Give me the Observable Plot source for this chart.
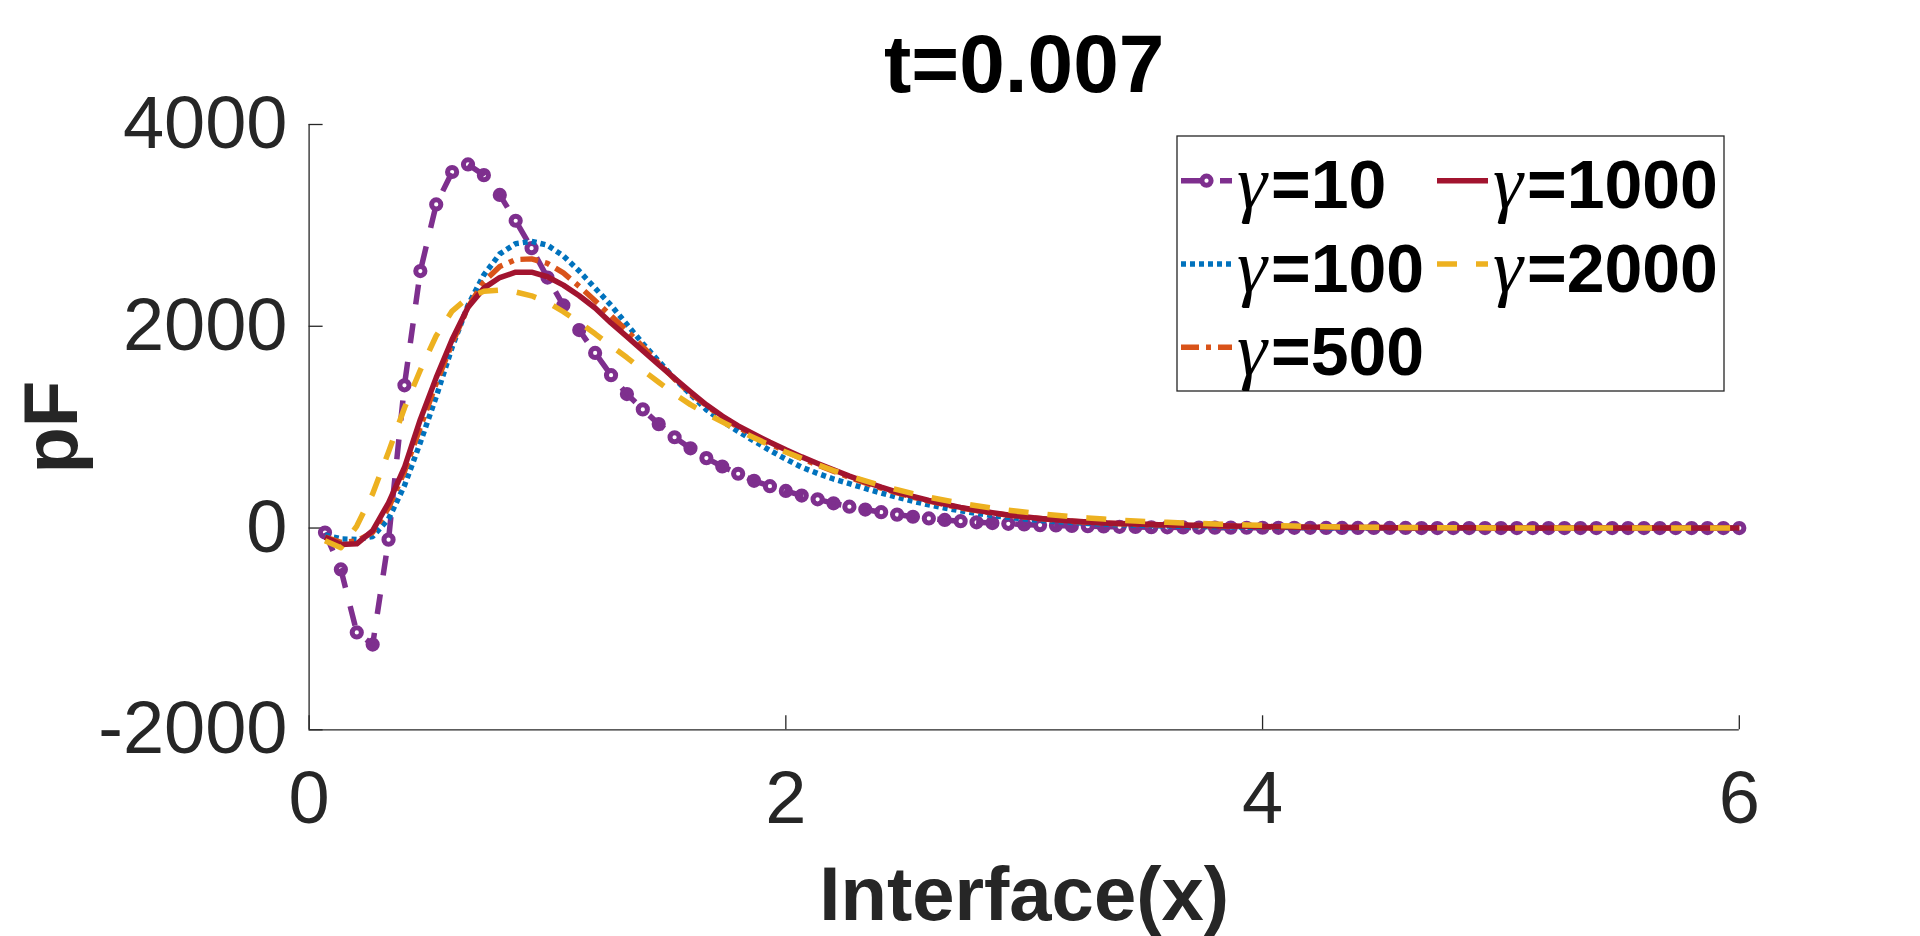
<!DOCTYPE html>
<html>
<head>
<meta charset="utf-8">
<script src="https://cdn.jsdelivr.net/npm/d3@7"></script>
<script src="https://cdn.jsdelivr.net/npm/@observablehq/plot@0.6"></script>
<style>
html, body { margin: 0; padding: 0; background: #fff; overflow: hidden; }
#chart svg { display: block; }
</style>
</head>
<body>
<div id="chart"></div>
<script>
// ---------------- data ----------------
const titleText = "t=0.007";
const xLabel = "Interface(x)";
const yLabel = "pF";
const xTicks = [0, 2, 4, 6];
const yTicks = [-2000, 0, 2000, 4000];
const gammas = [10, 100, 500, 1000, 2000];

const xs = [0.0667,0.1333,0.2,0.2667,0.3333,0.4,0.4667,0.5333,0.6,0.6667,
  0.7333,0.8,0.8667,0.9333,1,1.0667,1.1333,1.2,1.2667,1.3333,
  1.4,1.4667,1.5333,1.6,1.6667,1.7333,1.8,1.8667,1.9333,2,
  2.0667,2.1333,2.2,2.2667,2.3333,2.4,2.4667,2.5333,2.6,2.6667,
  2.7333,2.8,2.8667,2.9333,3,3.0667,3.1333,3.2,3.2667,3.3333,
  3.4,3.4667,3.5333,3.6,3.6667,3.7333,3.8,3.8667,3.9333,4,
  4.0667,4.1333,4.2,4.2667,4.3333,4.4,4.4667,4.5333,4.6,4.6667,
  4.7333,4.8,4.8667,4.9333,5,5.0667,5.1333,5.2,5.2667,5.3333,
  5.4,5.4667,5.5333,5.6,5.6667,5.7333,5.8,5.8667,5.9333,6];

const g10 = [-45,-410,-1035,-1155,-115,1415,2547,3208,3529,3604,
  3498,3302,3046,2774,2483,2208,1962,1736,1515,1328,
  1176,1030,900,790,693,610,538,468,415,368,
  322,285,245,212,183,157,133,112,95,80,
  68,57,49,42,35,29,25,21,18,15,
  12,10,8,7,6,5,4,4,3,3,
  2,2,2,1,1,1,1,1,1,0,
  0,0,0,0,0,0,0,0,0,0,
  0,0,0,0,0,0,0,0,0,0];

const g100 = [-68,-107,-114,-84,90,420,849,1302,1793,2208,
  2510,2717,2819,2842,2804,2698,2547,2378,2208,2018,
  1829,1654,1480,1325,1173,1059,958,862,770,683,
  603,541,486,440,392,347,305,266,230,198,
  170,145,124,106,90,76,64,54,46,39,
  33,28,24,20,17,15,13,11,9,8,
  7,6,5,4,3,3,2,2,2,1,
  1,1,1,1,0,0,0,0,0,0,
  0,0,0,0,0,0,0,0,0,0];

const g500 = [-90,-143,-127,-43,200,560,1000,1434,1830,2189,
  2442,2593,2661,2668,2623,2529,2396,2253,2104,1955,
  1797,1633,1476,1334,1215,1100,1000,915,835,760,
  690,625,563,503,447,396,349,306,267,232,
  200,173,149,128,110,94,80,68,58,50,
  43,38,34,30,27,24,21,19,17,15,
  13,11,9,8,7,6,5,4,3,3,
  2,2,2,1,1,1,1,0,0,0,
  0,0,0,0,0,0,0,0,0,0];

const g1000 = [-91,-163,-157,-25,250,600,1076,1491,1868,2189,
  2378,2483,2536,2536,2491,2408,2302,2181,2033,1897,
  1758,1620,1485,1351,1222,1110,1013,930,850,775,
  705,640,578,515,458,405,357,313,273,237,
  205,177,152,130,111,95,81,69,59,51,
  44,39,35,31,28,25,22,19,17,15,
  13,11,9,8,7,6,5,4,3,3,
  2,2,2,1,1,1,1,0,0,0,
  0,0,0,0,0,0,0,0,0,0];

const g2000 = [-125,-195,20,340,755,1190,1566,1906,2151,2283,
  2347,2359,2340,2302,2238,2144,2038,1925,1805,1690,
  1565,1445,1328,1223,1134,1052,970,895,822,753,
  690,628,570,517,468,422,380,341,306,275,
  246,221,198,177,158,141,126,112,100,89,
  79,70,63,57,51,46,41,36,31,27,
  23,19,16,13,11,9,7,6,5,4,
  3,3,2,2,1,1,1,0,0,0,
  0,0,0,0,0,0,0,0,0,0];

const seriesValues = [g10, g100, g500, g1000, g2000];

// ---------------- styles ----------------
const axisColor = "#262626";
const lineWidth = 5.5;
const seriesStyles = [
  {color: "#7E2F8E", dash: "20,19", marker: true},
  {color: "#0072BD", dash: "5,4"},
  {color: "#D95319", dash: "18,7,5,7"},
  {color: "#A2142F", dash: null},
  {color: "#EDB120", dash: "20,19"}
];
const W = 1920, H = 936;
const mL = 308.6, mR = 181.2, mT = 124, mB = 206.7;
const sansFont = "'Liberation Sans', Arial, Helvetica, sans-serif";
const serifFont = "'Liberation Serif', 'Times New Roman', serif";

const seriesRows = seriesValues.map((vals, i) => vals.map((v, j) => ({x: xs[j], y: v, s: i})));

const marks = [];
// axis lines (left and bottom)
marks.push(Plot.ruleX([xTicks[0]], {x: d => d, stroke: axisColor, strokeWidth: 1.3}));
marks.push(Plot.ruleY([yTicks[0]], {y: d => d, stroke: axisColor, strokeWidth: 1.3}));
// inward tick marks
marks.push(Plot.ruleY(yTicks, {y: d => d, x1: xTicks[0], x2: xTicks[0], insetRight: -14, stroke: axisColor, strokeWidth: 1.3}));
marks.push(Plot.ruleX(xTicks, {x: d => d, y1: yTicks[0], y2: yTicks[0], insetTop: -14, stroke: axisColor, strokeWidth: 1.3}));
// tick labels
marks.push(Plot.axisY(yTicks, {tickSize: 0, tickPadding: 21.6, fontSize: 74, label: null, tickFormat: d => String(d), fill: axisColor}));
marks.push(Plot.axisX(xTicks, {tickSize: 0, tickPadding: 41, fontSize: 74, label: null, tickFormat: d => String(d), fill: axisColor}));

// series, drawn in plotting order
seriesRows.forEach((rows, i) => {
  const st = seriesStyles[i];
  marks.push(Plot.line(rows, {
    x: "x", y: "y", stroke: st.color, strokeWidth: lineWidth,
    strokeDasharray: st.dash || undefined, strokeLinecap: "butt", strokeLinejoin: "round"
  }));
  if (st.marker) {
    marks.push(Plot.dot(rows, {x: "x", y: "y", r: 4.6, stroke: st.color, strokeWidth: 5, fill: "none"}));
  }
});

// titles
marks.push(Plot.text([titleText], {text: d => d, frameAnchor: "top", dy: -32.3, lineAnchor: "bottom", textAnchor: "middle", fontSize: 82, fontWeight: "bold", fill: "#000"}));
marks.push(Plot.text([xLabel], {text: d => d, frameAnchor: "bottom", dy: 189.7, lineAnchor: "bottom", textAnchor: "middle", fontSize: 76, fontWeight: "bold", fill: axisColor}));
marks.push(Plot.text([yLabel], {text: d => d, frameAnchor: "left", dx: -232.6, rotate: -90, lineAnchor: "bottom", textAnchor: "middle", fontSize: 76, fontWeight: "bold", fill: axisColor}));

const chart = Plot.plot({
  width: W, height: H,
  marginLeft: mL, marginRight: mR, marginTop: mT, marginBottom: mB,
  x: {domain: [xTicks[0], xTicks[xTicks.length - 1]]},
  y: {domain: [yTicks[0], yTicks[yTicks.length - 1]]},
  style: {fontFamily: sansFont, background: "#fff", color: axisColor, overflow: "visible"},
  marks
});
document.getElementById("chart").appendChild(chart);

// ---------------- legend ----------------
const svg = d3.select(chart);
const lg = svg.append("g").attr("class", "legend").attr("text-anchor", "start");
lg.append("rect")
  .attr("x", 1177).attr("y", 136).attr("width", 547).attr("height", 255)
  .attr("fill", "#fff").attr("stroke", axisColor).attr("stroke-width", 1.3);
gammas.forEach((g, i) => {
  const st = seriesStyles[i];
  const col = Math.floor(i / 3), row = i % 3;
  const x0 = 1181 + col * 256;
  const cy = 180.7 + row * 83.3;
  lg.append("line")
    .attr("x1", x0).attr("x2", x0 + 51).attr("y1", cy).attr("y2", cy)
    .attr("stroke", st.color).attr("stroke-width", lineWidth)
    .attr("stroke-dasharray", st.dash).attr("stroke-linecap", "butt");
  if (st.marker) {
    lg.append("circle").attr("cx", x0 + 25.5).attr("cy", cy).attr("r", 4.6)
      .attr("fill", "none").attr("stroke", st.color).attr("stroke-width", 5);
  }
  const t = lg.append("text").attr("x", x0 + 56).attr("y", cy + 27.5)
    .attr("text-anchor", "start")
    .attr("font-size", 68).attr("fill", "#000");
  t.append("tspan").attr("font-family", serifFont).attr("font-style", "italic").attr("font-size", 76).text("γ");
  t.append("tspan").attr("dx", 4).attr("font-family", sansFont).attr("font-weight", "bold").text("=" + g);
});
</script>
</body>
</html>
